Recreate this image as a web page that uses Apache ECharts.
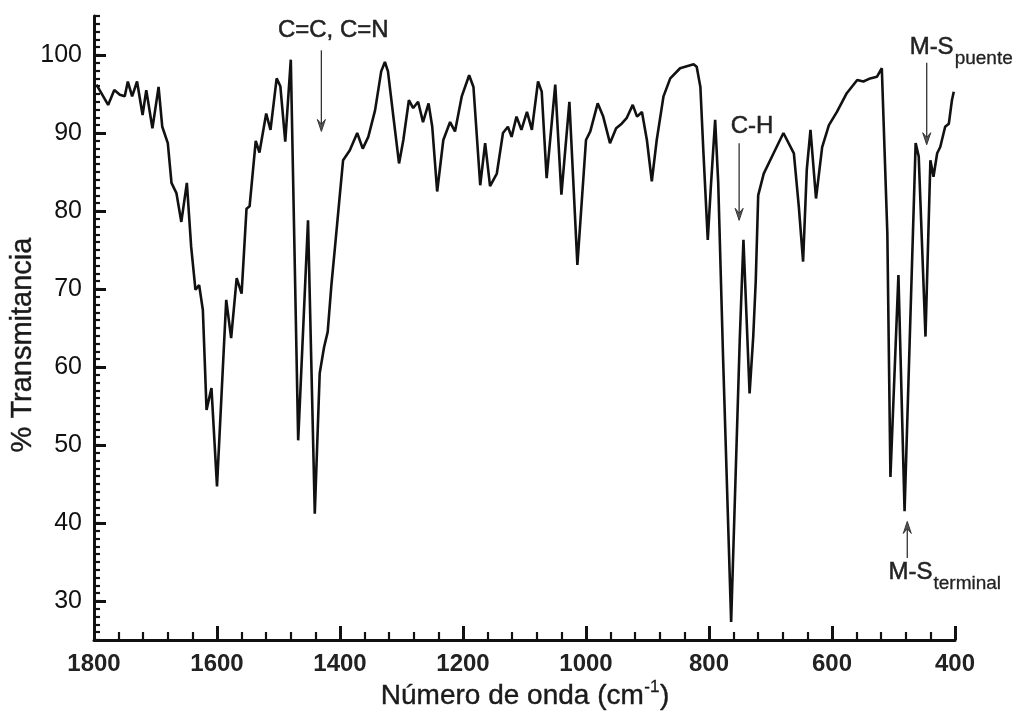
<!DOCTYPE html>
<html><head><meta charset="utf-8">
<script src="https://cdn.jsdelivr.net/npm/echarts@6/dist/echarts.min.js"></script>
<style>html,body{margin:0;padding:0;background:#fff}#c{width:1018px;height:714px}</style>
</head><body><div id="c"></div>
<script>
// ---- data ----
const wavenumbers = [1796,1777,1767,1758,1750,1745,1738,1730,1721,1715,1705,1695,1689,1680,1674,1666,1658,1649,1642,1635,1629,1623,1617,1609,1600,1585,1577,1568,1560,1552,1547,1537,1531,1520,1513,1503,1497,1489,1480,1468,1452,1441,1433,1426,1420,1414,1408,1400,1395,1384,1372,1363,1354,1343,1333,1327,1322,1314,1304,1297,1288,1281,1273,1265,1256,1250,1242,1232,1221,1213,1202,1190,1183,1172,1164,1156,1145,1135,1127,1121,1113,1105,1096,1088,1078,1072,1064,1050,1040,1027,1014,1000,993,981,972,961,951,942,934,924,917,909,901,893,885,874,863,847,825,820,814,809,802,797,790,785,777,764,750,744,734,728,724,720,711,695,679,662,654,647,641,635,626,616,605,592,576,559,549,538,527,519,510,505,492,482,464,459,448,440,435,429,424,416,410,405,402];
const transmittance = [96.2,93.6,95.5,94.9,94.7,96.6,94.7,96.6,92.3,95.5,90.6,95.9,90.8,88.7,83.6,82.3,78.6,83.6,75.4,69.9,70.5,67.3,54.5,57.3,44.7,68.6,63.7,71.4,69.4,80.3,80.6,89,87.5,92.5,90.4,97,96,88.9,99.4,50.6,78.8,41.2,59.2,62.5,64.5,70.5,75.5,82.3,86.5,87.8,90,88,89.5,92.9,97.9,99.1,97.9,92.6,86.1,89.1,94.2,93.2,94,91.4,93.8,90.8,82.5,89.1,91.4,90.2,94.7,97.4,95.9,83.3,88.7,83.2,84.8,90,90.8,89.5,92.1,90.4,92.7,90.4,96.6,95.3,84.2,96.2,82.1,94,73.1,89.1,90.2,93.8,92.1,88.7,90.6,91.2,91.9,93.6,92.1,92.7,89.1,83.8,89.1,94.7,97,98.3,98.8,98.5,95.9,87.4,76.3,83.1,91.7,83.6,60.9,27.3,63.5,76.3,56.6,64,71,82,84.8,87.4,90,87.4,80.6,73.5,85.3,90.4,81.6,88.2,91,92.7,95.1,96.8,96.6,97,97.2,98.3,77.1,45.9,71.8,41.5,88.7,87,63.9,86.5,84.4,87.4,88.2,90.8,91.2,94.2,95.3];
const xTickValues = [1800,1600,1400,1200,1000,800,600,400];
const yTickValues = [30,40,50,60,70,80,90,100];
const xTitle = 'Número de onda (cm';
const xTitleSup = '-1';
const yTitle = '% Transmitancia';
// annotation labels: text, subscript, label anchor (wavenumber, %T), arrow (wavenumber, from %T, to %T)
const annotationTexts = ['C=C, C=N', 'C-H', 'M-S', 'M-S'];
const annotationSubs = ['', '', 'puente', 'terminal'];
const annotationLabelAt = [[1411,103.1],[730,90.8],[438,101.0],[472.4,33.7]];
const annotationArrows = [[1430.3,100.6,90.2],[751,88.7,78.8],[446,99,88.5],[477.6,35.5,40.2]];

const FONT = '"Liberation Sans", Arial, Helvetica, sans-serif';
const chart = echarts.init(document.getElementById('c'), null, {renderer:'canvas'});
const seriesData = wavenumbers.map((w,i)=>[w, transmittance[i]]);
const axisColor = '#111';
const X_MIN = 400, X_MAX = 1800, Y_MIN = 25, Y_MAX = 105;

chart.setOption({
  animation:false,
  backgroundColor:'#fff',
  grid:{left:94, right:63, top:16, bottom:74},
  xAxis:{
    type:'value', inverse:true, min:X_MIN, max:X_MAX, interval:200,
    axisLine:{show:true, lineStyle:{color:axisColor, width:3}},
    axisTick:{show:true, inside:true, length:14, lineStyle:{color:axisColor, width:3}},
    minorTick:{show:true, splitNumber:5, length:8, lineStyle:{color:axisColor, width:2.2}},
    axisLabel:{margin:12, fontSize:24, fontWeight:'bold', color:'#222', fontFamily:FONT,
      formatter:(v)=>String(v)},
    splitLine:{show:false}, minorSplitLine:{show:false}
  },
  yAxis:[{
    type:'value', min:Y_MIN, max:Y_MAX,
    axisLine:{show:true, lineStyle:{color:axisColor, width:3}},
    axisTick:{show:true, inside:true, length:12, customValues:yTickValues, lineStyle:{color:axisColor, width:3}},
    axisLabel:{customValues:yTickValues, margin:12, fontSize:25, color:'#111', fontFamily:FONT,
      formatter:(v)=>String(v)},
    splitLine:{show:false}
  },{
    type:'value', min:Y_MIN, max:Y_MAX, interval:1, position:'left', offset:0,
    axisLine:{show:false},
    axisTick:{show:true, inside:true, length:6, lineStyle:{color:axisColor, width:2.2}},
    axisLabel:{show:false},
    splitLine:{show:false}
  }],
  series:[{
    type:'line', data:seriesData, xAxisIndex:0, yAxisIndex:0,
    symbol:'none', showSymbol:false, smooth:false,
    lineStyle:{color:'#111', width:2.6}
  }]
});

// ---- titles & annotations ----
const ctx = document.createElement('canvas').getContext('2d');
function tw(t, size, weight){ ctx.font = (weight||'normal')+' '+size+'px '+FONT; return ctx.measureText(t).width; }
const P = (w,t)=>chart.convertToPixel({xAxisIndex:0, yAxisIndex:0}, [w,t]);

const g = [];
function txt(x,y,text,size,opts){
  opts = opts||{};
  g.push({type:'text', x:x, y:y, rotation:opts.rotation||0, silent:true,
    style:{text:text, fontSize:size, fontFamily:FONT, fontWeight:opts.weight||'normal',
      fill:opts.color||'#1a1a1a', align:opts.align||'left', verticalAlign:'middle',
      stroke:opts.color||'#1a1a1a', lineWidth:opts.stroke||0}});
}
txt(23, 345, yTitle, 29, {rotation:Math.PI/2, align:'center', stroke:0.4});
const xs = 28, ss = 17;
const w1 = tw(xTitle, xs), w2 = tw(xTitleSup, ss), w3 = tw(')', xs);
const x0 = 524.5 - (w1+w2+w3)/2;
txt(x0, 696, xTitle, xs, {stroke:0.4});
txt(x0+w1+0.5, 687, xTitleSup, ss, {stroke:0.3});
txt(x0+w1+w2+1, 696, ')', xs, {stroke:0.4});

annotationTexts.forEach((t,i)=>{
  const lp = P(annotationLabelAt[i][0], annotationLabelAt[i][1]);
  const fs = 24, sfs = 19;
  const mw = tw(t, fs);
  txt(lp[0], lp[1], t, fs, {align:'center', stroke:0.5, color:'#222'});
  if (annotationSubs[i]) {
    txt(lp[0] + mw/2 + 1, lp[1] + 12, annotationSubs[i], sfs, {stroke:0.3, color:'#222'});
  }
  const a = annotationArrows[i];
  const p1 = P(a[0], a[1]), p2 = P(a[0], a[2]);
  const dir = p2[1] > p1[1] ? 1 : -1;
  const hl = 12, hw = 4;
  g.push({type:'line', silent:true, shape:{x1:p1[0], y1:p1[1], x2:p2[0], y2:p2[1]-dir*hl*0.6},
    style:{stroke:'#333', lineWidth:1.3}});
  g.push({type:'polygon', silent:true, shape:{points:[[p2[0],p2[1]],[p2[0]-hw,p2[1]-dir*hl],[p2[0],p2[1]-dir*hl*0.6],[p2[0]+hw,p2[1]-dir*hl]]},
    style:{fill:'#555', stroke:'#333', lineWidth:1}});
});
chart.setOption({graphic:{elements:g}});
</script>
</body></html>
